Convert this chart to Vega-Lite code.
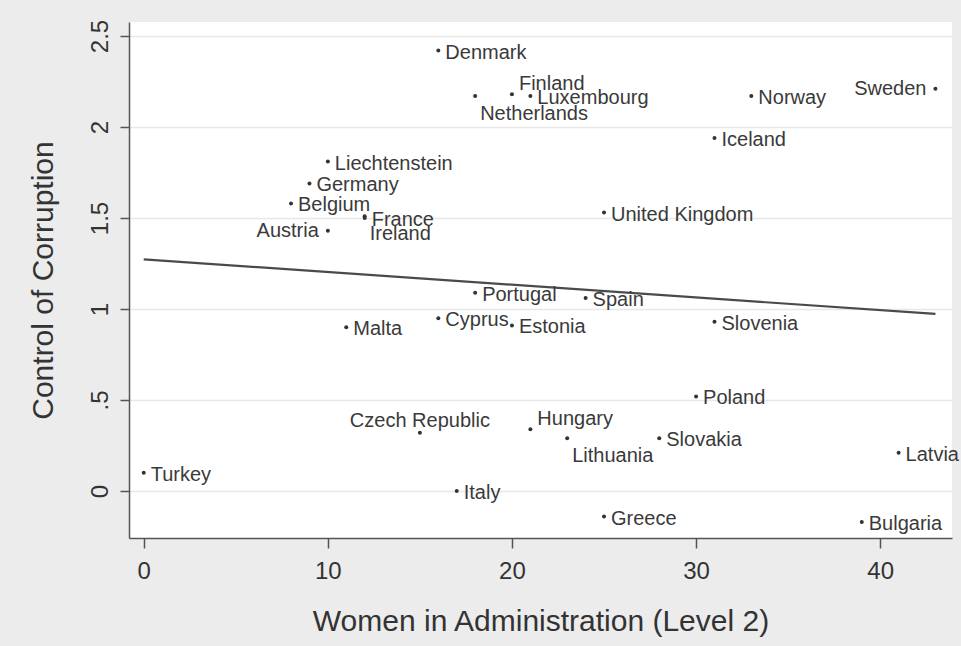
{
  "$schema": "https://vega.github.io/schema/vega-lite/v6.json",
  "width": 823,
  "height": 516,
  "autosize": {"type": "none"},
  "padding": {"left": 129, "top": 22, "right": 9, "bottom": 108},
  "background": "#ececec",
  "config": {
    "font": "Liberation Sans",
    "view": {"fill": "white", "stroke": null}
  },
  "datasets": {
    "countries": [
      {"country": "Austria", "women": 10, "corruption": 1.43, "pos": 9},
      {"country": "Belgium", "women": 8, "corruption": 1.58, "pos": 3},
      {"country": "Bulgaria", "women": 39, "corruption": -0.17, "pos": 3},
      {"country": "Cyprus", "women": 16, "corruption": 0.95, "pos": 3},
      {"country": "Czech Republic", "women": 15, "corruption": 0.32, "pos": 12},
      {"country": "Denmark", "women": 16, "corruption": 2.42, "pos": 3},
      {"country": "Estonia", "women": 20, "corruption": 0.91, "pos": 3},
      {"country": "Finland", "women": 20, "corruption": 2.18, "pos": 1},
      {"country": "France", "women": 12, "corruption": 1.50, "pos": 3},
      {"country": "Germany", "women": 9, "corruption": 1.69, "pos": 3},
      {"country": "Greece", "women": 25, "corruption": -0.14, "pos": 3},
      {"country": "Hungary", "women": 21, "corruption": 0.34, "pos": 1},
      {"country": "Iceland", "women": 31, "corruption": 1.94, "pos": 3},
      {"country": "Ireland", "women": 12, "corruption": 1.51, "pos": 5},
      {"country": "Italy", "women": 17, "corruption": 0.0, "pos": 3},
      {"country": "Latvia", "women": 41, "corruption": 0.21, "pos": 3},
      {"country": "Liechtenstein", "women": 10, "corruption": 1.81, "pos": 3},
      {"country": "Lithuania", "women": 23, "corruption": 0.29, "pos": 5},
      {"country": "Luxembourg", "women": 21, "corruption": 2.17, "pos": 3},
      {"country": "Malta", "women": 11, "corruption": 0.90, "pos": 3},
      {"country": "Netherlands", "women": 18, "corruption": 2.17, "pos": 5},
      {"country": "Norway", "women": 33, "corruption": 2.17, "pos": 3},
      {"country": "Poland", "women": 30, "corruption": 0.52, "pos": 3},
      {"country": "Portugal", "women": 18, "corruption": 1.09, "pos": 3},
      {"country": "Slovakia", "women": 28, "corruption": 0.29, "pos": 3},
      {"country": "Slovenia", "women": 31, "corruption": 0.93, "pos": 3},
      {"country": "Spain", "women": 24, "corruption": 1.06, "pos": 3},
      {"country": "Sweden", "women": 43, "corruption": 2.21, "pos": 9},
      {"country": "Turkey", "women": 0, "corruption": 0.10, "pos": 3},
      {"country": "United Kingdom", "women": 25, "corruption": 1.53, "pos": 3}
    ],
    "fit": [
      {"women": 0, "corruption": 1.273},
      {"women": 43, "corruption": 0.973}
    ]
  },
  "encoding": {
    "x": {
      "field": "women", "type": "quantitative",
      "scale": {"domain": [-0.8, 43.9], "nice": false, "zero": false},
      "axis": {
        "title": "Women in Administration (Level 2)",
        "values": [0, 10, 20, 30, 40],
        "grid": false,
        "domainColor": "#555555", "domainWidth": 1.5,
        "tickColor": "#555555", "tickSize": 10, "tickWidth": 1.5,
        "labelFontSize": 24, "labelColor": "#333333", "labelPadding": 11,
        "labelBaseline": "top",
        "titleFontSize": 30, "titleFontWeight": "normal", "titleColor": "#333333",
        "titleY": 92, "titleBaseline": "alphabetic"
      }
    },
    "y": {
      "field": "corruption", "type": "quantitative",
      "scale": {"domain": [-0.258, 2.577], "nice": false, "zero": false},
      "axis": {
        "title": "Control of Corruption",
        "values": [0, 0.5, 1, 1.5, 2, 2.5],
        "labelExpr": "datum.value == 0.5 ? '.5' : toString(datum.value)",
        "grid": true, "gridColor": "#e8e8e8", "gridWidth": 1.5,
        "domainColor": "#555555", "domainWidth": 1.5,
        "tickColor": "#555555", "tickSize": 9, "tickWidth": 1.5,
        "labelFontSize": 24, "labelColor": "#333333", "labelPadding": 13,
        "labelAngle": 270, "labelAlign": "center", "labelBaseline": "alphabetic",
        "titleFontSize": 30, "titleFontWeight": "normal", "titleColor": "#333333",
        "titleAngle": 270, "titleX": -77, "titleY": 258,
        "titleAlign": "center", "titleBaseline": "alphabetic"
      }
    }
  },
  "layer": [
    {
      "data": {"name": "fit"},
      "mark": {"type": "line", "color": "#4a4a4a", "strokeWidth": 2.2}
    },
    {
      "data": {"name": "countries"},
      "mark": {"type": "point", "shape": "circle", "filled": true, "size": 16, "color": "#333333", "opacity": 1}
    },
    {
      "data": {"name": "countries"},
      "transform": [{"filter": "datum.pos == 3"}],
      "mark": {"type": "text", "align": "left", "baseline": "middle", "dx": 7, "dy": 2, "fontSize": 20, "color": "#3a3a3a"},
      "encoding": {"text": {"field": "country"}}
    },
    {
      "data": {"name": "countries"},
      "transform": [{"filter": "datum.pos == 9"}],
      "mark": {"type": "text", "align": "right", "baseline": "middle", "dx": -9, "fontSize": 20, "color": "#3a3a3a"},
      "encoding": {"text": {"field": "country"}}
    },
    {
      "data": {"name": "countries"},
      "transform": [{"filter": "datum.pos == 12"}],
      "mark": {"type": "text", "align": "center", "baseline": "alphabetic", "dy": -6, "fontSize": 20, "color": "#3a3a3a"},
      "encoding": {"text": {"field": "country"}}
    },
    {
      "data": {"name": "countries"},
      "transform": [{"filter": "datum.pos == 1"}],
      "mark": {"type": "text", "align": "left", "baseline": "middle", "dx": 7, "dy": -10, "fontSize": 20, "color": "#3a3a3a"},
      "encoding": {"text": {"field": "country"}}
    },
    {
      "data": {"name": "countries"},
      "transform": [{"filter": "datum.pos == 5"}],
      "mark": {"type": "text", "align": "left", "baseline": "middle", "dx": 5, "dy": 18, "fontSize": 20, "color": "#3a3a3a"},
      "encoding": {"text": {"field": "country"}}
    }
  ]
}
